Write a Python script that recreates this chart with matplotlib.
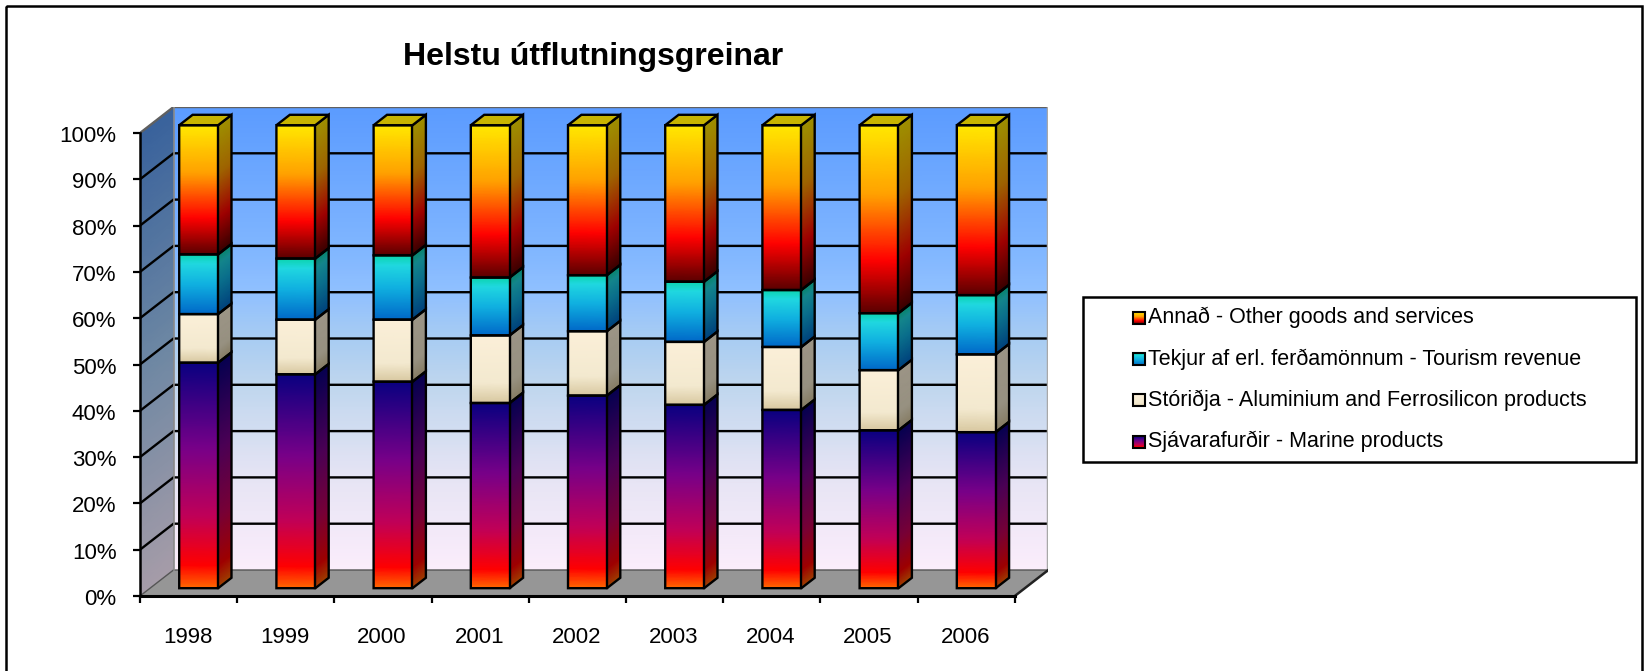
import numpy as np
import matplotlib
matplotlib.use("Agg")
import matplotlib.pyplot as plt
from matplotlib.colors import LinearSegmentedColormap
from matplotlib.patches import Polygon, Rectangle
from matplotlib.transforms import ScaledTranslation

plt.rcParams['font.family'] = ['Liberation Sans', 'DejaVu Sans']

# values, percent of total
years = ['1998', '1999', '2000', '2001', '2002', '2003', '2004', '2005', '2006']
marine = [48.7, 46.2, 44.6, 40.0, 41.6, 39.6, 38.5, 34.1, 33.7]
aluminium = [10.5, 11.8, 13.4, 14.6, 13.9, 13.6, 13.6, 13.0, 16.8]
tourism = [12.9, 13.2, 13.9, 12.5, 12.1, 13.0, 12.3, 12.3, 12.8]
other = [27.9, 28.8, 28.1, 32.9, 32.4, 33.8, 35.6, 40.6, 36.7]
percent_ticks = [0, 10, 20, 30, 40, 50, 60, 70, 80, 90, 100]
legend_labels = ['Annað - Other goods and services',
                 'Tekjur af erl. ferðamönnum - Tourism revenue',
                 'Stóriðja - Aluminium and Ferrosilicon products',
                 'Sjávarafurðir - Marine products']

W, H = 1645, 671
CAT_PX = 97.2    # pixels per category
PCT_PX = 4.63    # pixels per percent
DX = 33.5 / CAT_PX   # depth of the 3d box in data units
DY = 26 / PCT_PX
D0, D1 = 0.3, 0.7    # bar front and back depth
BAR_W = 0.40

# gradient stops, t=0 at bottom of a segment
stops_marine = [(0, '#ff6a00'), (0.10, '#ff0000'), (0.32, '#c00058'), (0.62, '#780088'), (1, '#0a0080')]
stops_alum = [(0, '#d8c8a0'), (0.30, '#f3e9cf'), (1, '#fbefd8')]
stops_tourism = [(0, '#0068c8'), (0.5, '#10b0e0'), (0.85, '#20d8e0'), (1, '#0dd4b0')]
stops_other = [(0, '#5a0000'), (0.28, '#ff0000'), (0.63, '#ffa000'), (1, '#ffe800')]
stops_wall = [(0, '#fbedfb'), (0.2, '#e6e4f4'), (0.4, '#bfd6ee'), (0.5, '#a8ccf2'),
              (0.6, '#90c0ff'), (0.7, '#7fb5ff'), (1, '#5b9bff')]


def make_cmap(stops, factor=1.0):
    cols = [(t, tuple(np.array(matplotlib.colors.to_rgb(c)) * factor)) for t, c in stops]
    return LinearSegmentedColormap.from_list('g', cols)


def shade(ax, xs, y_bottom, y_top, cmap, zorder):
    # vertical gradient on a quad, y_bottom and y_top have one value per x
    t = np.linspace(0, 1, 50)
    X = np.array([[x for x in xs] for _ in t])
    Y = np.array([[b + (a - b) * v for a, b in zip(y_top, y_bottom)] for v in t])
    C = np.array([[v for _ in xs] for v in t])
    ax.pcolormesh(X, Y, C, cmap=cmap, shading='gouraud', vmin=0, vmax=1, zorder=zorder)


fig = plt.figure(figsize=(W / 100, H / 100), dpi=100, facecolor='white')
ax = fig.add_axes([140 / W, 1 - 596 / H, (1048 - 140) / W, (596 - 107) / H])
ax.set_xlim(0, 908 / CAT_PX)
ax.set_ylim(0, 489 / PCT_PX)
ax.patch.set_visible(False)

n = len(years)

# back wall, left wall, floor
shade(ax, [DX, n + DX], [DY, DY], [100 + DY, 100 + DY], make_cmap(stops_wall), 1)
shade(ax, [0, DX], [0, DY], [100, 100 + DY], make_cmap([(0, '#a69ca8'), (0.5, '#6d87a3'), (1, '#39629c')]), 1)
ax.add_patch(Polygon([(0, 0), (n, 0), (n + DX, DY), (DX, DY)], fc='#969696', ec='none', zorder=1))

# grid lines on both walls
for p in percent_ticks[1:]:
    col = '#606060' if p == 100 else 'black'
    ax.plot([0, DX, n + DX], [p, p + DY, p + DY], color=col, lw=1.7, zorder=2, solid_joinstyle='miter')
ax.plot([0, DX, n + DX], [0, DY, DY], color='#555555', lw=1.0, zorder=2)
ax.plot([DX, DX], [DY, 100 + DY], color='#8a8a8a', lw=1.2, zorder=2)
ax.plot([n + DX, n + DX], [DY, 100 + DY], color='#a8a8a8', lw=2.5, zorder=2)
ax.plot([n, n + DX], [0, DY], color='#222222', lw=1.8, zorder=2)

# stacked 3d bars
series = [(marine, stops_marine), (aluminium, stops_alum), (tourism, stops_tourism), (other, stops_other)]
for i in range(n):
    xl = i + 0.5 - BAR_W / 2 + D0 * DX
    xr = xl + BAR_W
    xb = xr + (D1 - D0) * DX
    base = 0.0
    z = 3
    for values, stops in series:
        top = base + values[i]
        y0 = base + D0 * DY
        y1 = top + D0 * DY
        y0b = base + D1 * DY
        y1b = top + D1 * DY
        shade(ax, [xl, xr], [y0, y0], [y1, y1], make_cmap(stops), z)
        shade(ax, [xr, xb], [y0, y0b], [y1, y1b], make_cmap(stops, 0.62), z)
        ax.add_patch(Polygon([(xl, y0), (xr, y0), (xb, y0b), (xb, y1b), (xr, y1), (xl, y1)],
                             fc='none', ec='black', lw=1.7, zorder=z + 1, joinstyle='miter'))
        ax.plot([xr, xr], [y0, y1], color='black', lw=1.7, zorder=z + 1)
        base = top
    # bar lid
    ax.add_patch(Polygon([(xl, y1), (xr, y1), (xb, y1b), (xb - BAR_W, y1b)],
                         fc='#c8b400', ec='black', lw=1.7, zorder=z + 1, joinstyle='miter'))

# axes on the front plane
for side in ['top', 'right']:
    ax.spines[side].set_visible(False)
ax.spines['left'].set_bounds(0, 100)
ax.spines['bottom'].set_bounds(0, n)
ax.spines['left'].set_linewidth(1.8)
ax.spines['bottom'].set_linewidth(2.2)
ax.spines['left'].set_zorder(6)
ax.spines['bottom'].set_zorder(6)
ax.set_yticks(percent_ticks)
ax.set_yticklabels([f'{p}%' for p in percent_ticks], fontsize=16)
ax.set_xticks(range(n + 1))
ax.set_xticklabels([])
ax.set_xticks(np.arange(n) + 0.5, minor=True)
ax.set_xticklabels(years, minor=True, fontsize=16)
ax.tick_params(axis='y', length=5, width=1.6, pad=12)
ax.tick_params(axis='x', which='major', length=5, width=1.6)
ax.tick_params(axis='x', which='minor', length=0, pad=22)
for lab in ax.get_xticklabels(minor=True):
    lab.set_transform(lab.get_transform() + ScaledTranslation(-1.0 / 100, 0, fig.dpi_scale_trans))
for lab in ax.get_yticklabels():
    lab.set_transform(lab.get_transform() + ScaledTranslation(0, -1.0 / 100, fig.dpi_scale_trans))

# overlay in pixel coordinates for frame, title and legend
ov = fig.add_axes([0, 0, 1, 1])
ov.set_xlim(0, W)
ov.set_ylim(H, 0)
ov.axis('off')
ov.patch.set_visible(False)
ov.add_patch(Rectangle((6, 6), 1636, 690, fc='none', ec='black', lw=1.8))
ov.text(593, 57, 'Helstu útflutningsgreinar', fontsize=23, fontweight='bold', ha='center', va='center')

ov.add_patch(Rectangle((1083, 297), 553, 165, fc='white', ec='black', lw=1.8, zorder=5))
legend_stops = [stops_other, stops_tourism, stops_alum, stops_marine]
for j, (label, stops) in enumerate(zip(legend_labels, legend_stops)):
    yc = 317.5 + j * 41.4
    shade(ov, [1133, 1145], [yc + 6, yc + 6], [yc - 6, yc - 6], make_cmap(stops), 6)
    ov.add_patch(Rectangle((1133, yc - 6), 12, 12, fc='none', ec='black', lw=1.5, zorder=7))
    ov.text(1148, yc, label, fontsize=15.5, va='center', ha='left', zorder=7)
ov.set_xlim(0, W)
ov.set_ylim(H, 0)

fig.savefig('out.png', dpi=100)
